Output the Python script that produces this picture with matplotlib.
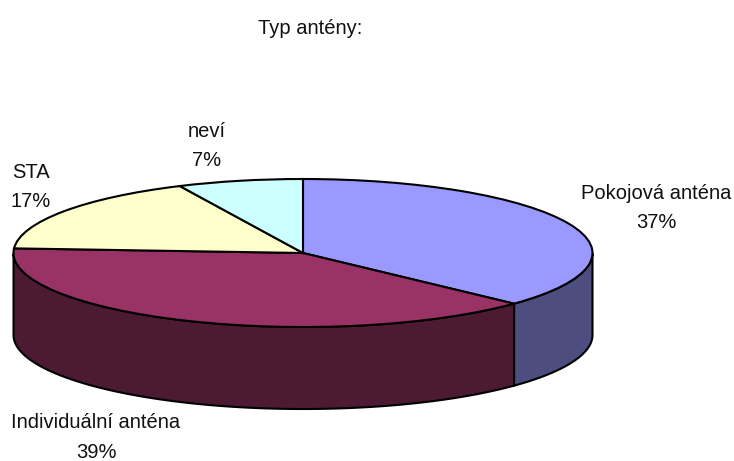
#!/usr/bin/env python3
import numpy as np
import matplotlib
matplotlib.use('Agg')
import matplotlib.pyplot as plt

plt.rcParams['font.family'] = ['Liberation Sans', 'DejaVu Sans']

labels = ['Pokojová anténa', 'Individuální anténa', 'STA', 'neví']
values = [37, 39, 17, 7]
top_colors = ['#9999FF', '#993366', '#FFFFCC', '#CCFFFF']
side_colors = ['#4D4D80', '#4D1A33', '#80805F', '#608080']

W, H = 734, 461
cx, cy = 303, 253     # pie centre in pixels
rx, ry = 289.5, 74    # ellipse semi axes in pixels
depth = 82 / ry

fig = plt.figure(figsize=(W / 100, H / 100), dpi=100)
ax = fig.add_axes([0, 0, 1, 1])

# walls first, only the front half (angle 180-360) shows
ends = 90 - np.cumsum(values) * 3.6
starts = np.concatenate([[90], ends[:-1]])
for st, en, col in zip(starts, ends, side_colors):
    a1 = np.radians(en) % (2 * np.pi)
    a0 = a1 + np.radians(st - en)
    t = np.linspace(a1, a0, 200)
    t = t[np.sin(t) < 0]
    if len(t) < 2:
        continue
    x = np.cos(t)
    y = np.sin(t)
    ax.fill(np.concatenate([x, x[::-1]]),
            np.concatenate([y, y[::-1] - depth]),
            facecolor=col, edgecolor='black', linewidth=1.5, zorder=1)

ax.pie(values, colors=top_colors, startangle=90, counterclock=False,
       radius=1, wedgeprops={'edgecolor': 'black', 'linewidth': 1.5, 'zorder': 2})

ax.set_aspect('auto')
ax.set_xlim(-cx / rx, (W - cx) / rx)
ax.set_ylim((cy - H) / ry, cy / ry)
ax.axis('off')


def place(px, py, s):
    fig.text(px / W, 1 - py / H, s, ha='center', va='center', fontsize=14.5,
             color='#111111', linespacing=1.68)


place(310, 28.5, 'Typ antény:')
place(656, 208, '%s\n%d%%' % (labels[0], values[0]))
place(96, 437.5, '%s\n%d%%' % (labels[1], values[1]))
place(31, 187, '%s\n%d%%' % (labels[2], values[2]))
place(207, 146, '%s\n%d%%' % (labels[3], values[3]))

fig.savefig('out.png', dpi=100)
